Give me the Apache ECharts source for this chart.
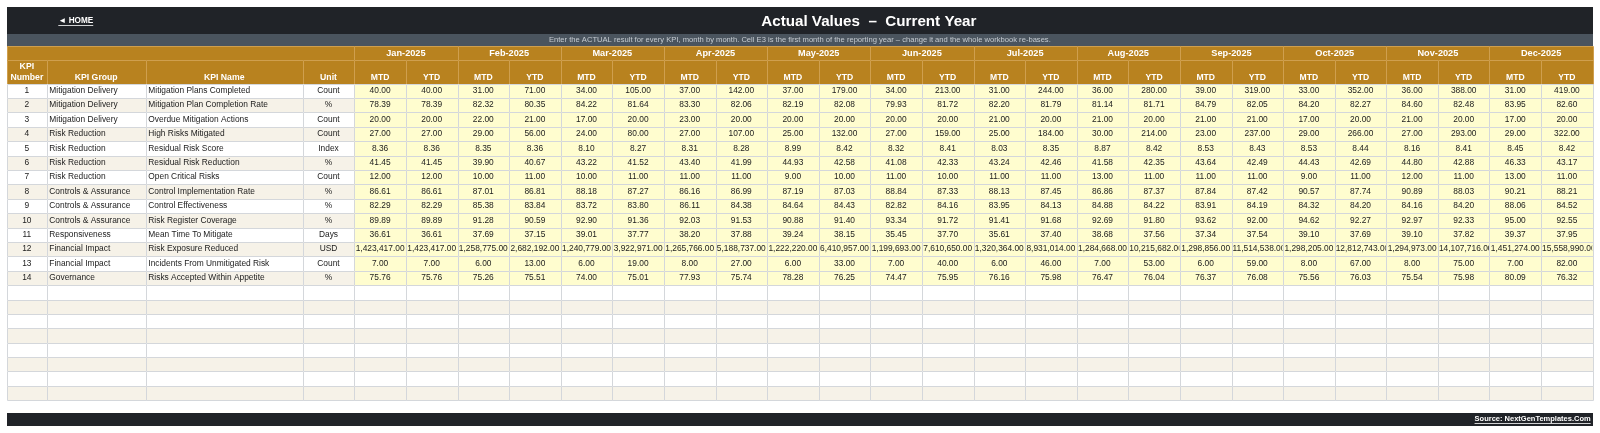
<!DOCTYPE html>
<html><head><meta charset="utf-8">
<script src="https://cdn.jsdelivr.net/npm/echarts@6/dist/echarts.min.js"></script>
<style>html,body{margin:0;padding:0;background:#fff;}#chart{width:1600px;height:433px;}</style>
</head><body><div id="chart"></div>
<script>
// ---------- DATA ----------
const pageTitle = 'Actual Values  \u2013  Current Year';
const subtitle = 'Enter the ACTUAL result for every KPI, month by month. Cell E3 is the first month of the reporting year \u2013 change it and the whole workbook re-bases.';
const homeLabel = '\u25C4 HOME';
const sourceLabel = 'Source: NextGenTemplates.Com';
const leftHeaders = ['KPI\nNumber', 'KPI Group', 'KPI Name', 'Unit'];
const subHeaders = ['MTD', 'YTD'];
const months = ['Jan-2025','Feb-2025','Mar-2025','Apr-2025','May-2025','Jun-2025','Jul-2025','Aug-2025','Sep-2025','Oct-2025','Nov-2025','Dec-2025'];
const kpiNumbers = [1,2,3,4,5,6,7,8,9,10,11,12,13,14];
const kpiGroups = ['Mitigation Delivery','Mitigation Delivery','Mitigation Delivery','Risk Reduction','Risk Reduction','Risk Reduction','Risk Reduction','Controls & Assurance','Controls & Assurance','Controls & Assurance','Responsiveness','Financial Impact','Financial Impact','Governance'];
const kpiNames = ['Mitigation Plans Completed','Mitigation Plan Completion Rate','Overdue Mitigation Actions','High Risks Mitigated','Residual Risk Score','Residual Risk Reduction','Open Critical Risks','Control Implementation Rate','Control Effectiveness','Risk Register Coverage','Mean Time To Mitigate','Risk Exposure Reduced','Incidents From Unmitigated Risk','Risks Accepted Within Appetite'];
const kpiUnits = ['Count','%','Count','Count','Index','%','Count','%','%','%','Days','USD','Count','%'];
const mtdValues = [
  [40,31,34,37,37,34,31,36,39,33,36,31],
  [78.39,82.32,84.22,83.30,82.19,79.93,82.20,81.14,84.79,84.20,84.60,83.95],
  [20,22,17,23,20,20,21,21,21,17,21,17],
  [27,29,24,27,25,27,25,30,23,29,27,29],
  [8.36,8.35,8.10,8.31,8.99,8.32,8.03,8.87,8.53,8.53,8.16,8.45],
  [41.45,39.90,43.22,43.40,44.93,41.08,43.24,41.58,43.64,44.43,44.80,46.33],
  [12,10,10,11,9,11,11,13,11,9,12,13],
  [86.61,87.01,88.18,86.16,87.19,88.84,88.13,86.86,87.84,90.57,90.89,90.21],
  [82.29,85.38,83.72,86.11,84.64,82.82,83.95,84.88,83.91,84.32,84.16,88.06],
  [89.89,91.28,92.90,92.03,90.88,93.34,91.41,92.69,93.62,94.62,92.97,95.00],
  [36.61,37.69,39.01,38.20,39.24,35.45,35.61,38.68,37.34,39.10,39.10,39.37],
  [1423417,1258775,1240779,1265766,1222220,1199693,1320364,1284668,1298856,1298205,1294973,1451274],
  [7,6,6,8,6,7,6,7,6,8,8,7],
  [75.76,75.26,74.00,77.93,78.28,74.47,76.16,76.47,76.37,75.56,75.54,80.09]
];
const ytdValues = [
  [40,71,105,142,179,213,244,280,319,352,388,419],
  [78.39,80.35,81.64,82.06,82.08,81.72,81.79,81.71,82.05,82.27,82.48,82.60],
  [20,21,20,20,20,20,20,20,21,20,20,20],
  [27,56,80,107,132,159,184,214,237,266,293,322],
  [8.36,8.36,8.27,8.28,8.42,8.41,8.35,8.42,8.43,8.44,8.41,8.42],
  [41.45,40.67,41.52,41.99,42.58,42.33,42.46,42.35,42.49,42.69,42.88,43.17],
  [12,11,11,11,10,10,11,11,11,11,11,11],
  [86.61,86.81,87.27,86.99,87.03,87.33,87.45,87.37,87.42,87.74,88.03,88.21],
  [82.29,83.84,83.80,84.38,84.43,84.16,84.13,84.22,84.19,84.20,84.20,84.52],
  [89.89,90.59,91.36,91.53,91.40,91.72,91.68,91.80,92.00,92.27,92.33,92.55],
  [36.61,37.15,37.77,37.88,38.15,37.70,37.40,37.56,37.54,37.69,37.82,37.95],
  [1423417,2682192,3922971,5188737,6410957,7610650,8931014,10215682,11514538,12812743,14107716,15558990],
  [7,13,19,27,33,40,46,53,59,67,75,82],
  [75.76,75.51,75.01,75.74,76.25,75.95,75.98,76.04,76.08,76.03,75.98,76.32]
];
const emptyRowCount = 8;

// ---------- LAYOUT / STYLE ----------
const FONT = "'Liberation Sans', Arial, Helvetica, sans-serif";
const DARK = '#202328', SLATE = '#4a545e', GOLD = '#b8821f', GOLD_LINE = '#cf9f4e';
const YELLOW = '#fffdcf', BEIGE = '#f6f2e8', WHITE = '#ffffff', GRID = '#d4d7db', INK = '#1c1c1c';
const colWidths = [39.7, 99, 157, 51.6].concat(new Array(24).fill(51.6));
const rowHeights = [27.3, 11.4, 14.6, 23.2].concat(new Array(14 + emptyRowCount).fill(14.4), [12.7, 12.6]);
const colEdges = [0]; colWidths.forEach(w => colEdges.push(colEdges[colEdges.length - 1] + w));
const rowEdges = [0]; rowHeights.forEach(h => rowEdges.push(rowEdges[rowEdges.length - 1] + h));
const W = colEdges[colEdges.length - 1], H = rowEdges[rowEdges.length - 1];
const NC = colWidths.length, NR = rowHeights.length;

function fmt(v) {
  const s = v.toFixed(2).split('.');
  return s[0].replace(/\B(?=(\d{3})+(?!\d))/g, ',') + '.' + s[1];
}

const cells = [], data = [];
function cell(c0, c1, r0, r1, o) {
  cells.push(o);
  data.push([colEdges[c0], colEdges[c1], rowEdges[r0], rowEdges[r1], cells.length - 1]);
}

// title bar
cell(0, NC, 0, 1, { fill: DARK });
cell(0, NC, 0, 1, { text: homeLabel, align: 'left', pad: 51.3, size: 8.2, bold: true, color: '#fff', underline: true, dy: 0.3 });
cell(0, NC, 0, 1, { text: pageTitle, size: 15.2, bold: true, color: '#fff', dx: 69, dy: 1 });
// subtitle band
cell(0, NC, 1, 2, { fill: SLATE, text: subtitle, size: 7.6, color: '#c6ccd2', dx: 0 });
// header row 1
cell(0, 4, 2, 3, { fill: GOLD, stroke: GOLD_LINE });
months.forEach((m, i) => cell(4 + 2 * i, 6 + 2 * i, 2, 3, { fill: GOLD, stroke: GOLD_LINE, text: m, size: 9.2, bold: true, color: '#fff' }));
// header row 2
leftHeaders.forEach((t, c) => cell(c, c + 1, 3, 4, { fill: GOLD, stroke: GOLD_LINE, text: t, size: 8.7, bold: true, color: '#fff', lineHeight: 11, dy: t.indexOf('\n') >= 0 ? 0 : 5.4 }));
months.forEach((m, i) => subHeaders.forEach((s, k) => cell(4 + 2 * i + k, 5 + 2 * i + k, 3, 4, { fill: GOLD, stroke: GOLD_LINE, text: s, size: 8.6, bold: true, color: '#fff', dy: 5.4 })));
// data rows
kpiNumbers.forEach((n, r) => {
  const row = 4 + r, bg = r % 2 ? BEIGE : WHITE;
  const base = { fill: bg, stroke: GRID, size: 8.4, color: INK };
  cell(0, 1, row, row + 1, Object.assign({}, base, { text: String(n) }));
  cell(1, 2, row, row + 1, Object.assign({}, base, { text: kpiGroups[r], align: 'left', pad: 2.6 }));
  cell(2, 3, row, row + 1, Object.assign({}, base, { text: kpiNames[r], align: 'left', pad: 2.6 }));
  cell(3, 4, row, row + 1, Object.assign({}, base, { text: kpiUnits[r] }));
  months.forEach((m, i) => {
    cell(4 + 2 * i, 5 + 2 * i, row, row + 1, { fill: YELLOW, stroke: GRID, size: 8.4, color: INK, text: fmt(mtdValues[r][i]), clip: true });
    cell(5 + 2 * i, 6 + 2 * i, row, row + 1, { fill: YELLOW, stroke: GRID, size: 8.4, color: INK, text: fmt(ytdValues[r][i]), clip: true });
  });
});
// empty rows
for (let e = 0; e < emptyRowCount; e++) {
  const r = kpiNumbers.length + e, row = 4 + r, bg = r % 2 ? BEIGE : WHITE;
  for (let c = 0; c < NC; c++) cell(c, c + 1, row, row + 1, { fill: bg, stroke: GRID });
}
// footer bar
cell(0, NC, NR - 1, NR, { fill: DARK, text: sourceLabel, align: 'right', pad: 2, size: 7.5, bold: true, color: '#fff', underline: true });

const mctx = document.createElement('canvas').getContext('2d');
function fontOf(c) { return (c.bold ? 'bold ' : '') + c.size + 'px ' + FONT; }
function measure(t, c) { mctx.font = fontOf(c); return Math.max.apply(null, t.split('\n').map(s => mctx.measureText(s).width)); }

function renderItem(params, api) {
  const c = cells[api.value(4)];
  const p0 = api.coord([api.value(0), api.value(2)]);
  const p1 = api.coord([api.value(1), api.value(3)]);
  const x = Math.min(p0[0], p1[0]), y = Math.min(p0[1], p1[1]);
  const w = Math.abs(p1[0] - p0[0]), h = Math.abs(p1[1] - p0[1]);
  const children = [];
  if (c.fill || c.stroke) {
    const rx = Math.round(x) + 0.5, ry = Math.round(y) + 0.5;
    const rw = Math.round(x + w) - Math.round(x), rh = Math.round(y + h) - Math.round(y);
    children.push({ type: 'rect', shape: { x: rx - 0.5, y: ry - 0.5, width: rw, height: rh }, style: { fill: c.fill || 'transparent' } });
    if (c.stroke) children.push({ type: 'rect', shape: { x: rx, y: ry, width: rw, height: rh }, style: { fill: 'transparent', stroke: c.stroke, lineWidth: 1 } });
  }
  if (c.text != null) {
    const tw = measure(c.text, c);
    let align = c.align || 'center', tx;
    if (align === 'left') tx = x + c.pad;
    else if (align === 'right') tx = x + w - c.pad;
    else tx = x + w / 2 + (c.dx || 0);
    if (c.clip && align === 'center' && tw > w - 1) { align = 'left'; tx = x + 1; }
    const ty = y + h / 2 + (c.dy || 0);
    const txt = { type: 'text', x: tx, y: ty, style: {
      text: c.text, fill: c.color, fontSize: c.size, fontWeight: c.bold ? 'bold' : 'normal',
      fontFamily: FONT, align: align, verticalAlign: 'middle', lineHeight: c.lineHeight || c.size * 1.2 } };
    if (c.clip) {
      children.push({ type: 'group', children: [txt], clipPath: { type: 'rect', shape: { x: x + 0.5, y: y, width: w - 1, height: h } } });
    } else children.push(txt);
    if (c.underline) {
      const lx = align === 'left' ? tx : align === 'right' ? tx - tw : tx - tw / 2;
      const ly = Math.round(ty + c.size * 0.55) + 0.5;
      children.push({ type: 'line', shape: { x1: lx, y1: ly, x2: lx + tw, y2: ly }, style: { stroke: c.color, lineWidth: 0.8 } });
    }
  }
  return { type: 'group', children: children };
}

const chart = echarts.init(document.getElementById('chart'));
chart.setOption({
  animation: false,
  backgroundColor: '#ffffff',
  grid: { left: 7, top: 7, width: W, height: H },
  xAxis: { type: 'value', min: 0, max: W, show: false },
  yAxis: { type: 'value', min: 0, max: H, inverse: true, show: false },
  series: [{ type: 'custom', renderItem: renderItem, data: data, encode: { x: [0, 1], y: [2, 3] }, clip: false, silent: true }]
});
</script></body></html>
